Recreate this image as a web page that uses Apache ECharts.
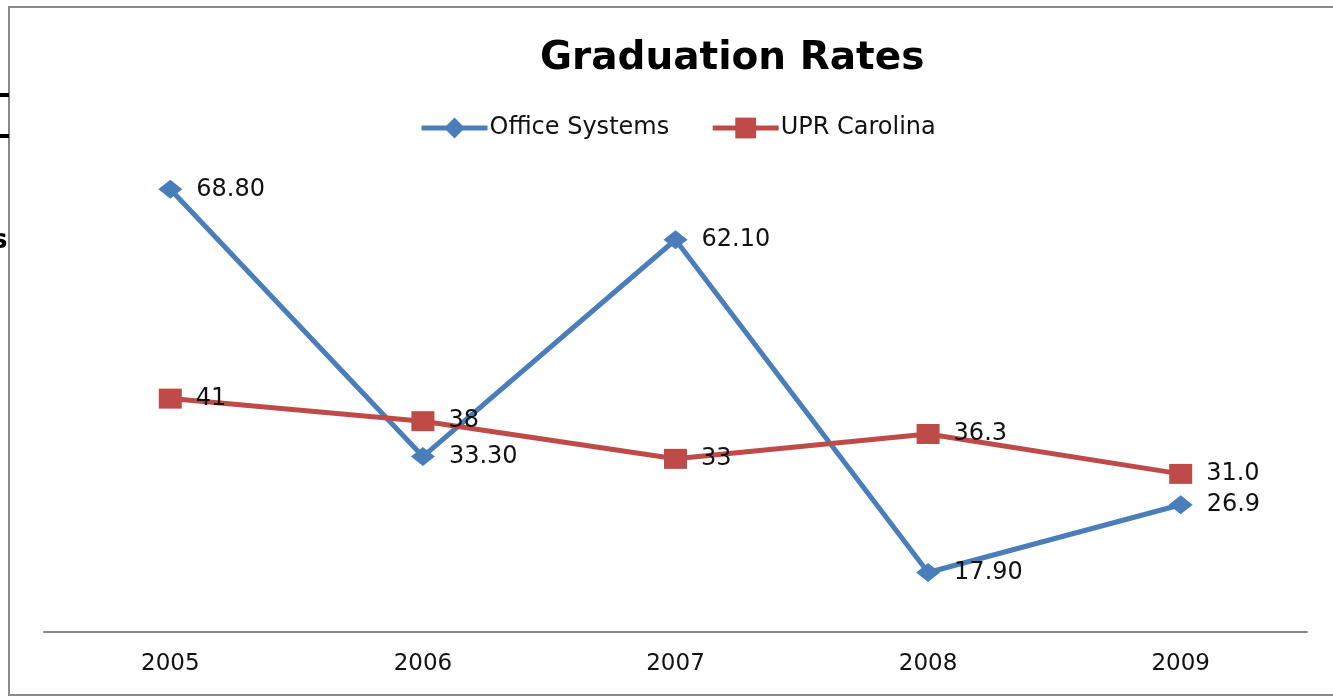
<!DOCTYPE html>
<html><head><meta charset="utf-8">
<script src="https://cdn.jsdelivr.net/npm/echarts@6/dist/echarts.min.js"></script>
<style>html,body{margin:0;padding:0;background:#fff}#c{width:1333px;height:698px}</style>
</head><body><div id="c"></div>
<script>
const categories = ['2005','2006','2007','2008','2009'];
const officeSystems = [68.8, 33.3, 62.1, 17.9, 26.9];
const officeLabels = ['68.80','33.30','62.10','17.90','26.9'];
const uprCarolina = [41, 38, 33, 36.3, 31.0];
const uprLabels = ['41','38','33','36.3','31.0'];

const FONT = '"DejaVu Sans", sans-serif';
const chart = echarts.init(document.getElementById('c'));
chart.setOption({
  animation: false,
  backgroundColor: '#fff',
  title: {
    text: 'Graduation Rates', left: 535, top: 34,
    textStyle: {fontFamily: FONT, fontWeight: 'bold', fontSize: 39, color: '#000'}
  },
  legend: {
    top: 111, left: 414, itemWidth: 66, itemHeight: 26, itemGap: 41,
    lineStyle: {width: 5},
    textStyle: {fontFamily: FONT, fontSize: 24, color: '#111', padding: [0,0,0,-3]},
    data: ['Office Systems','UPR Carolina']
  },
  grid: {left: 44, right: 26, top: 105, bottom: 66},
  xAxis: {
    type: 'category', data: categories, boundaryGap: true,
    axisLine: {lineStyle: {color: '#888', width: 2}},
    axisTick: {show: false},
    axisLabel: {fontFamily: FONT, fontSize: 23, color: '#111', margin: 21}
  },
  yAxis: {type: 'value', min: 10, max: 80, show: false, splitLine: {show: false}},
  graphic: [
    {type: 'rect', shape: {x: 9, y: 7, width: 1340, height: 688}, style: {fill: 'none', stroke: '#8a8a8a', lineWidth: 2}, silent: true},
    {type: 'rect', shape: {x: 0, y: 93, width: 9, height: 4}, style: {fill: '#000'}},
    {type: 'rect', shape: {x: 0, y: 134, width: 9, height: 4}, style: {fill: '#000'}},
    {type: 'text', x: -8, y: 228, style: {text: 's', fontFamily: FONT, fontWeight: 'bold', fontSize: 26, fill: '#000'}}
  ],
  series: [
    {
      name: 'Office Systems', type: 'line', data: officeSystems,
      symbol: 'diamond', symbolSize: [24, 19],
      lineStyle: {color: '#4A7EBB', width: 5},
      itemStyle: {color: '#4A7EBB'},
      label: {show: true, position: 'right', distance: 14, fontFamily: FONT, fontSize: 24, color: '#111',
        formatter: p => officeLabels[p.dataIndex]}
    },
    {
      name: 'UPR Carolina', type: 'line', data: uprCarolina,
      symbol: 'rect', symbolSize: [23, 20],
      lineStyle: {color: '#BE4B48', width: 5},
      itemStyle: {color: '#BE4B48'},
      label: {show: true, position: 'right', distance: 14, fontFamily: FONT, fontSize: 24, color: '#111',
        formatter: p => uprLabels[p.dataIndex]}
    }
  ]
});
</script></body></html>
